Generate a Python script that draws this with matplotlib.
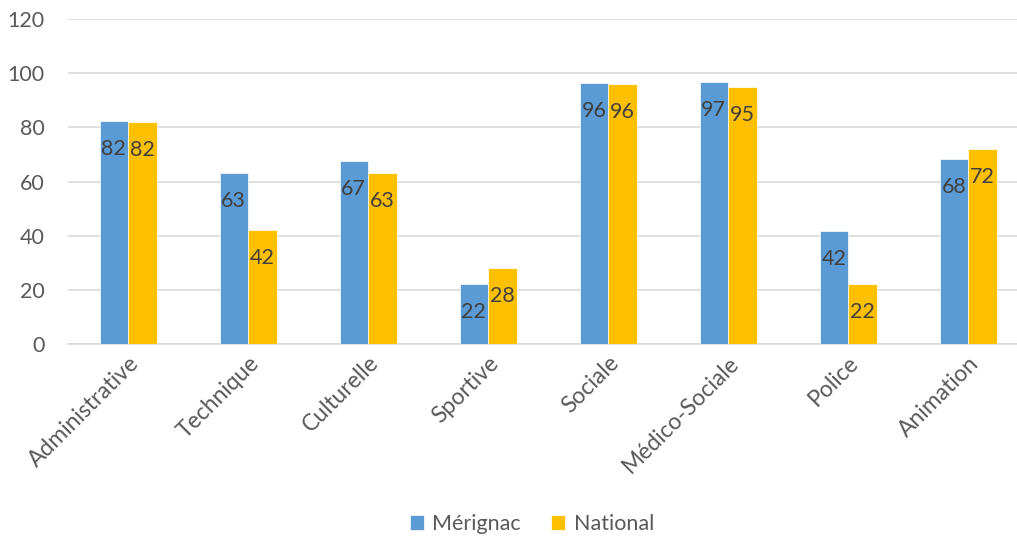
import matplotlib.pyplot as plt
import numpy as np

plt.rcParams['font.family'] = ['Lato', 'DejaVu Sans']

# Données
categories = ["Administrative", "Technique", "Culturelle", "Sportive",
              "Sociale", "Médico-Sociale", "Police", "Animation"]
merignac = [82.4, 63.3, 67.4, 22.2, 96.4, 96.8, 41.6, 68.2]
national = [81.9, 42.0, 63.0, 28.0, 96.0, 95.0, 22.0, 72.0]
labels_merignac = ["82", "63", "67", "22", "96", "97", "42", "68"]
labels_national = ["82", "42", "63", "28", "96", "95", "22", "72"]

fig = plt.figure(figsize=(10.17, 5.37), dpi=100)
ax = fig.add_axes([0.0669, 0.3594, 0.944, 0.6052])

x = np.arange(len(categories))
w = 0.2375
b1 = ax.bar(x - w / 2, merignac, w, color="#5B9BD5", label="Mérignac", zorder=3,
            edgecolor="white", linewidth=0.5)
b2 = ax.bar(x + w / 2, national, w, color="#FFC000", label="National", zorder=3,
            edgecolor="white", linewidth=0.5)

# Étiquettes à l'intérieur des barres
for bars, labs in [(b1, labels_merignac), (b2, labels_national)]:
    for rect, lab in zip(bars, labs):
        ax.annotate(lab, (rect.get_x() + rect.get_width() / 2, rect.get_height()),
                    xytext=(0, -28), textcoords="offset pixels",
                    ha="center", va="center", fontsize=15.5, color="#404040", zorder=4)

ax.set_xlim(-0.5, len(categories) - 0.5)
ax.set_ylim(0, 120)
ax.set_yticks(range(0, 121, 20))
ax.grid(axis="y", color="#D9D9D9", linewidth=1.2, zorder=0)
for s in ["top", "right", "left"]:
    ax.spines[s].set_visible(False)
ax.spines["bottom"].set_color("#D9D9D9")
ax.spines["bottom"].set_linewidth(1.2)
ax.tick_params(axis="both", length=0, colors="#595959")
ax.tick_params(axis="y", pad=17, labelsize=15.5)
ax.set_xticks(x)
ax.set_xticklabels(categories, rotation=45, ha="right", rotation_mode="anchor")
ax.tick_params(axis="x", pad=6, labelsize=16.5)

leg = fig.legend(loc="center", bbox_to_anchor=(0.523, 0.024), ncol=2, frameon=False,
                 fontsize=15.5, handlelength=0.65, handleheight=0.65, handletextpad=0.4,
                 columnspacing=1.4)
for t in leg.get_texts():
    t.set_color("#595959")

plt.savefig("out.png", dpi=100)
